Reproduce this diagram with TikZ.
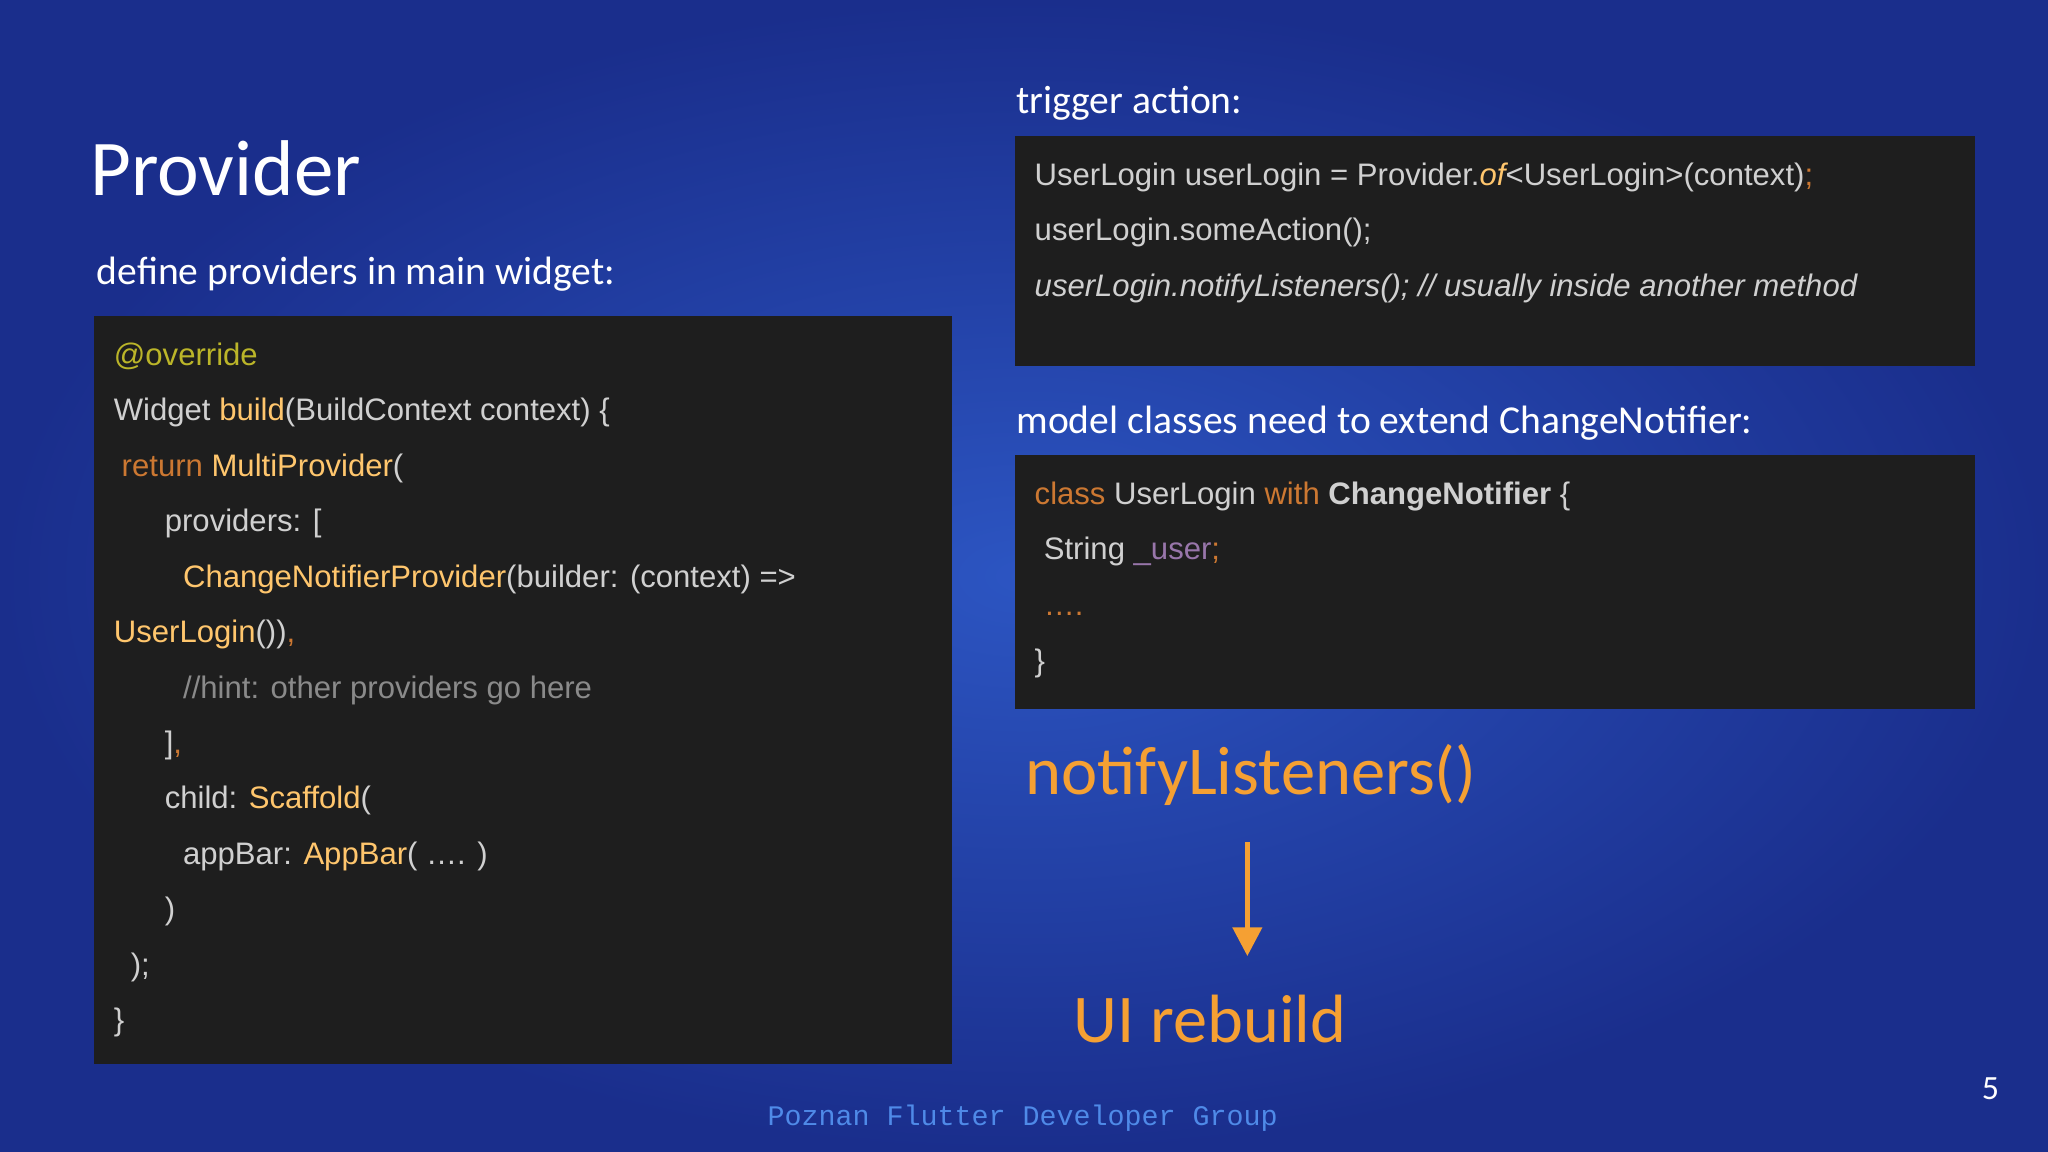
\documentclass[tikz,border=0pt]{standalone}
\usepackage{fontspec}
\setmainfont{Liberation Sans}
\newfontfamily\titlefont{Carlito}
\newfontfamily\footfont{Liberation Mono}
\usetikzlibrary{arrows.meta}
\definecolor{bgin}{HTML}{2C55C2}
\definecolor{bgout}{HTML}{1A2E8C}
\definecolor{codebg}{HTML}{1E1E1E}
\definecolor{ctext}{HTML}{D0D0D0}
\definecolor{ckw}{HTML}{CC7832}
\definecolor{cfn}{HTML}{FFC66D}
\definecolor{cann}{HTML}{BBB529}
\definecolor{ccom}{HTML}{8A8A8A}
\definecolor{cpur}{HTML}{9876AA}
\definecolor{corange}{HTML}{F5A033}
\definecolor{cfoot}{HTML}{4F8AE8}
\tikzset{
  code/.style={anchor=base west,inner sep=0pt,text=ctext,font=\fontsize{23.8}{27}\selectfont},
  lbl/.style={anchor=base west,inner sep=0pt,text=white,font=\titlefont\fontsize{30.3}{34}\selectfont},
  box/.style={fill=codebg,draw=none}
}
\begin{document}
\begin{tikzpicture}[x=1pt,y=-1pt]
\shade[inner color=bgin,outer color=bgout] (0,0) rectangle (1568,882);
\useasboundingbox (0,0) rectangle (1568,882);
\node[lbl,font=\titlefont\fontsize{60.5}{64}\selectfont] (title) at (69,150) {Provider};
\node[lbl] (l1) at (74,218) {define providers in main widget:};
\node[lbl] (l2) at (778,87) {trigger action:};
\node[lbl] (l3) at (778,332) {model classes need to extend ChangeNotifier:};
\fill[box] (72,242) rectangle (729,815);
\fill[box] (777,104) rectangle (1512,280);
\fill[box] (777,348) rectangle (1512,543);
% left code
\node[code] (c1) at (87,280) {\color{cann}@override};
\node[code] (c2) at (87,322) {Widget \color{cfn}build\color{ctext}(BuildContext context) \{};
\node[code] (c3) at (93,365) {\color{ckw}return \color{cfn}MultiProvider\color{ctext}(};
\node[code] (c4) at (126,407) {providers: [};
\node[code] (c5) at (140,450) {\color{cfn}ChangeNotifierProvider\color{ctext}(builder: (context) =>};
\node[code] (c6) at (87,492) {\color{cfn}UserLogin\color{ctext}())\color{ckw},};
\node[code] (c7) at (140,535) {\color{ccom}//hint: other providers go here};
\node[code] (c8) at (126,577) {]\color{ckw},};
\node[code] (c9) at (126,619) {child: \color{cfn}Scaffold\color{ctext}(};
\node[code] (c10) at (140,662) {appBar: \color{cfn}AppBar\color{ctext}( …. )};
\node[code] (c11) at (126,704) {)};
\node[code] (c12) at (100,747) {);};
\node[code] (c13) at (87,789) {\}};
% right code
\node[code] (r1) at (792,142) {UserLogin userLogin = Provider.\color{cfn}\itshape of\upshape\color{ctext}<UserLogin>(context)\color{ckw};};
\node[code] (r2) at (792,184) {userLogin.someAction();};
\node[code] (r3) at (792,227) {\itshape userLogin.notifyListeners(); // usually inside another method};
\node[code] (m1) at (792,386) {\color{ckw}class \color{ctext}UserLogin \color{ckw}with \color{ctext}\bfseries ChangeNotifier \mdseries\{};
\node[code] (m2) at (799,428) {String \color{cpur}\_user\color{ckw};};
\node[code] (m3) at (799,471) {\color{ckw}….};
\node[code] (m4) at (792,514) {\}};
\node[anchor=base west,inner sep=0pt,text=corange,font=\titlefont\fontsize{52.5}{56}\selectfont] (nl) at (785,608) {notifyListeners()};
\node[anchor=base west,inner sep=0pt,text=corange,font=\titlefont\fontsize{52.3}{56}\selectfont] (ui) at (822,798) {UI rebuild};
\coordinate (a1) at (955,645);
\coordinate (a2) at (955,732);
\draw[corange,line width=4pt,-{Triangle[length=22pt,width=22pt]}] (a1) -- (a2);
\node[anchor=base,inner sep=0pt,text=cfoot,font=\footfont\fontsize{21.7}{24}\selectfont] (ft) at (783,862) {Poznan Flutter Developer Group};
\node[anchor=base,inner sep=0pt,text=white,font=\titlefont\fontsize{26}{30}\selectfont] (pg) at (1524,842) {5};
\end{tikzpicture}
\end{document}
